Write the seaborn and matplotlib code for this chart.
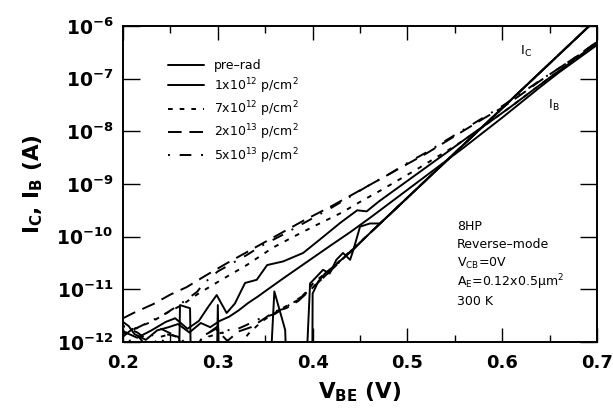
import numpy as np
import matplotlib
matplotlib.use("Agg")
import matplotlib.pyplot as plt
from matplotlib.ticker import FixedLocator, FixedFormatter, MultipleLocator
import seaborn as sns

# Curvas IB (corrente de base) por dose
IB_PRERAD_V = [0.200, 0.206, 0.212, 0.224, 0.236, 0.248, 0.258, 0.270, 0.282, 0.292, 0.302,
               0.312, 0.322, 0.332, 0.342, 0.352, 0.370, 0.394, 0.418, 0.440, 0.460, 0.480,
               0.500, 0.520, 0.540, 0.560, 0.580, 0.600, 0.620, 0.640, 0.660, 0.680, 0.700]
IB_PRERAD_LOG = [-11.62, -11.70, -11.85, -11.96, -11.78, -11.72, -11.66, -11.82, -11.64, -11.72, -11.60,
                 -11.52, -11.40, -11.26, -11.14, -11.01, -10.78, -10.48, -10.18, -9.91, -9.65, -9.38,
                 -9.11, -8.84, -8.57, -8.30, -8.02, -7.74, -7.45, -7.16, -6.88, -6.62, -6.36]

IB_1E12_V = [0.200, 0.215, 0.230, 0.245, 0.255, 0.268, 0.280, 0.290, 0.2988, 0.3093, 0.318, 0.3287,
             0.341, 0.352, 0.369, 0.390, 0.410, 0.429, 0.447, 0.457, 0.470, 0.490, 0.510, 0.530,
             0.550, 0.570, 0.590, 0.610, 0.630, 0.650, 0.670, 0.700]
IB_1E12_LOG = [-11.80, -11.92, -11.78, -11.62, -11.55, -11.75, -11.60, -11.33, -11.11, -11.45, -11.27, -10.88,
               -10.82, -10.54, -10.47, -10.31, -10.02, -9.74, -9.50, -9.52, -9.33, -9.07, -8.81, -8.55,
               -8.29, -8.03, -7.78, -7.52, -7.25, -6.98, -6.72, -6.32]

IB_7E12_V = [0.200, 0.214, 0.232, 0.246, 0.262, 0.278, 0.300, 0.3305, 0.358, 0.380, 0.404, 0.430,
             0.450, 0.470, 0.490, 0.510, 0.530, 0.550, 0.570, 0.590, 0.610, 0.630, 0.650, 0.670, 0.700]
IB_7E12_LOG = [-11.85, -11.74, -11.60, -11.45, -11.30, -11.10, -10.86, -10.54, -10.21, -10.00, -9.78, -9.55,
               -9.34, -9.14, -8.93, -8.72, -8.50, -8.28, -8.04, -7.78, -7.52, -7.25, -6.98, -6.72, -6.33]

IB_2E13_V = [0.200, 0.211, 0.232, 0.250, 0.267, 0.288, 0.310, 0.330, 0.360, 0.390, 0.420, 0.440,
             0.460, 0.480, 0.500, 0.520, 0.540, 0.560, 0.580, 0.600, 0.620, 0.640, 0.660, 0.680, 0.700]
IB_2E13_LOG = [-11.55, -11.45, -11.28, -11.10, -10.96, -10.73, -10.50, -10.30, -10.00, -9.70, -9.42, -9.22,
               -9.02, -8.82, -8.62, -8.42, -8.20, -7.98, -7.76, -7.55, -7.30, -7.04, -6.80, -6.56, -6.30]

IB_5E13_V = [0.200, 0.214, 0.232, 0.246, 0.262, 0.278, 0.285, 0.300, 0.3305, 0.3445, 0.370, 0.400,
             0.420, 0.4395, 0.457, 0.480, 0.500, 0.520, 0.540, 0.560, 0.580, 0.600, 0.620, 0.640,
             0.660, 0.680, 0.700]
IB_5E13_LOG = [-11.70, -11.74, -11.58, -11.45, -11.26, -11.05, -10.89, -10.66, -10.35, -10.19, -9.95, -9.65,
               -9.45, -9.24, -9.05, -8.82, -8.60, -8.40, -8.18, -7.96, -7.74, -7.52, -7.28, -7.03,
               -6.80, -6.56, -6.30]

# Trecho comum de IC em alta polarizacao
IC_HIGH_V = [0.480, 0.500, 0.520, 0.540, 0.560, 0.580, 0.600, 0.620, 0.640, 0.660, 0.680, 0.700]
IC_HIGH_LOG = [-9.60, -9.26, -8.92, -8.58, -8.24, -7.90, -7.56, -7.22, -6.88, -6.54, -6.20, -5.86]

# Trechos de IC em baixa polarizacao (ruido; -13 = abaixo do piso)
IC_PRERAD_V = [0.354, 0.3596, 0.371, 0.3735, 0.3995, 0.4000, 0.406, 0.413, 0.424, 0.434, 0.441, 0.460]
IC_PRERAD_LOG = [-13.0, -11.04, -11.77, -13.0, -13.0, -11.08, -10.85, -10.70, -10.54, -10.38, -10.28, -9.94]

IC_1E12_V = [0.2585, 0.2601, 0.2707, 0.2720, 0.2985, 0.3000, 0.3015, 0.392, 0.3973, 0.411, 0.418,
             0.425, 0.432, 0.4395, 0.443, 0.450, 0.4605, 0.471]
IC_1E12_LOG = [-13.0, -11.30, -11.36, -13.0, -13.0, -11.30, -13.0, -13.0, -10.89, -10.63, -10.70,
               -10.44, -10.31, -10.44, -10.25, -9.81, -9.75, -9.75]

IC_7E12_V = [0.200, 0.206, 0.212, 0.222, 0.236, 0.250, 0.262, 0.276, 0.290, 0.305, 0.318, 0.332,
             0.3463, 0.360, 0.371, 0.385, 0.3955, 0.4007, 0.420, 0.440, 0.460]
IC_7E12_LOG = [-11.78, -11.90, -12.30, -12.50, -11.92, -11.85, -11.95, -12.30, -11.90, -11.82, -12.20, -11.85,
               -11.61, -11.45, -11.33, -11.20, -11.01, -10.88, -10.60, -10.27, -9.94]

IC_2E13_V = [0.200, 0.210, 0.220, 0.232, 0.245, 0.258, 0.270, 0.285, 0.298, 0.310, 0.322, 0.335,
             0.347, 0.360, 0.372, 0.385, 0.400, 0.420, 0.440, 0.460]
IC_2E13_LOG = [-11.90, -11.75, -11.98, -12.40, -11.85, -11.90, -12.30, -11.88, -11.75, -11.98, -11.80, -11.72,
               -11.58, -11.42, -11.36, -11.22, -10.97, -10.63, -10.28, -9.94]

IC_5E13_V = [0.200, 0.215, 0.225, 0.240, 0.255, 0.270, 0.285, 0.300, 0.315, 0.330, 0.345, 0.360,
             0.375, 0.390, 0.410, 0.440, 0.460]
IC_5E13_LOG = [-11.70, -11.82, -11.95, -11.75, -11.88, -12.20, -11.90, -11.70, -11.80, -11.68, -11.55, -11.47,
               -11.30, -11.12, -10.80, -10.28, -9.94]

LABELS = ["pre\u2013rad", "1x10$^{12}$ p/cm$^2$", "7x10$^{12}$ p/cm$^2$",
          "2x10$^{13}$ p/cm$^2$", "5x10$^{13}$ p/cm$^2$"]

X_TICKS = [0.2, 0.3, 0.4, 0.5, 0.6, 0.7]
X_TICK_LABELS = ["0.2", "0.3", "0.4", "0.5", "0.6", "0.7"]
Y_TICKS = [1e-12, 1e-11, 1e-10, 1e-9, 1e-8, 1e-7, 1e-6]
Y_TICK_LABELS = [r"$\mathbf{10^{-12}}$", r"$\mathbf{10^{-11}}$", r"$\mathbf{10^{-10}}$",
                 r"$\mathbf{10^{-9}}$", r"$\mathbf{10^{-8}}$", r"$\mathbf{10^{-7}}$",
                 r"$\mathbf{10^{-6}}$"]

NOTES = ["8HP", "Reverse\u2013mode", "V$_{CB}$=0V", "A$_E$=0.12x0.5\u03bcm$^2$", "300 K"]

# Estilos de linha (solido, solido, tracejado curto, tracejado longo, traco-ponto)
LW = 1.4
STYLES = ["-", "-", (0, (2.4, 3.6)), (0, (7.0, 4.0)), (0, (1.0, 5.0, 6.0, 5.0))]


def main():
    sns.set_style("ticks")
    plt.rcParams["font.family"] = ["DejaVu Sans"]
    plt.rcParams["mathtext.fontset"] = "dejavusans"
    plt.rcParams["mathtext.default"] = "regular"
    for key in ["text.color", "axes.labelcolor", "xtick.color", "ytick.color", "axes.edgecolor"]:
        plt.rcParams[key] = "black"

    fig = plt.figure(figsize=(6.13, 4.16), dpi=100)
    ax = fig.add_axes([0.2007, 0.178, 0.7733, 0.7595])

    ib_curves = [(IB_PRERAD_V, IB_PRERAD_LOG), (IB_1E12_V, IB_1E12_LOG), (IB_7E12_V, IB_7E12_LOG),
                 (IB_2E13_V, IB_2E13_LOG), (IB_5E13_V, IB_5E13_LOG)]
    ic_curves = [(IC_PRERAD_V, IC_PRERAD_LOG), (IC_1E12_V, IC_1E12_LOG), (IC_7E12_V, IC_7E12_LOG),
                 (IC_2E13_V, IC_2E13_LOG), (IC_5E13_V, IC_5E13_LOG)]

    for k in range(5):
        v, lg = ib_curves[k]
        sns.lineplot(x=np.array(v), y=10.0 ** np.array(lg), ax=ax, color="black", lw=LW,
                     linestyle=STYLES[k], estimator=None, sort=False, label=LABELS[k])
        v, lg = ic_curves[k]
        v_all = np.array(list(v) + IC_HIGH_V)
        lg_all = np.array(list(lg) + IC_HIGH_LOG)
        sns.lineplot(x=v_all, y=10.0 ** lg_all, ax=ax, color="black", lw=LW,
                     linestyle=STYLES[k], estimator=None, sort=False, legend=False)

    ax.set_yscale("log")
    ax.set_xlim(0.2, 0.7)
    ax.set_ylim(1e-12, 1e-6)

    ax.xaxis.set_major_locator(FixedLocator(X_TICKS))
    ax.xaxis.set_major_formatter(FixedFormatter(X_TICK_LABELS))
    ax.xaxis.set_minor_locator(MultipleLocator(0.05))
    ax.yaxis.set_major_locator(FixedLocator(Y_TICKS))
    ax.yaxis.set_major_formatter(FixedFormatter(Y_TICK_LABELS))
    ax.yaxis.set_minor_locator(FixedLocator([]))

    ax.tick_params(axis="both", which="both", direction="in", top=True, right=True,
                   color="black", labelcolor="black", width=1.0)
    ax.tick_params(axis="y", which="major", length=12, pad=7, labelsize=13.5)
    ax.tick_params(axis="x", which="major", length=10, pad=9, labelsize=13)
    ax.tick_params(axis="x", which="minor", length=5)
    for lab in ax.get_xticklabels():
        lab.set_fontweight("bold")
    for sp in ax.spines.values():
        sp.set_linewidth(1.4)
        sp.set_color("black")

    ax.set_xlabel(r"V$_\mathbf{BE}$ (V)", fontsize=15.5, fontweight="bold", labelpad=6)
    ax.set_ylabel(r"I$_\mathbf{C}$, I$_\mathbf{B}$ (A)", fontsize=15.5, fontweight="bold", labelpad=8)

    ax.legend(loc="upper left", bbox_to_anchor=(0.095, 0.895), frameon=False, fontsize=9,
              handlelength=2.9, handletextpad=0.8, labelspacing=0.3, borderpad=0, borderaxespad=0)

    y_notes = [0.364, 0.307, 0.250, 0.190, 0.127]
    for txt, yy in zip(NOTES, y_notes):
        ax.text(0.705, yy, txt, transform=ax.transAxes, fontsize=9, va="center", ha="left")

    ax.text(0.838, 0.918, "I$_C$", transform=ax.transAxes, fontsize=9.5, va="center", ha="left")
    ax.text(0.897, 0.750, "I$_B$", transform=ax.transAxes, fontsize=9.5, va="center", ha="left")

    fig.savefig("out.png", dpi=100)


if __name__ == "__main__":
    main()
